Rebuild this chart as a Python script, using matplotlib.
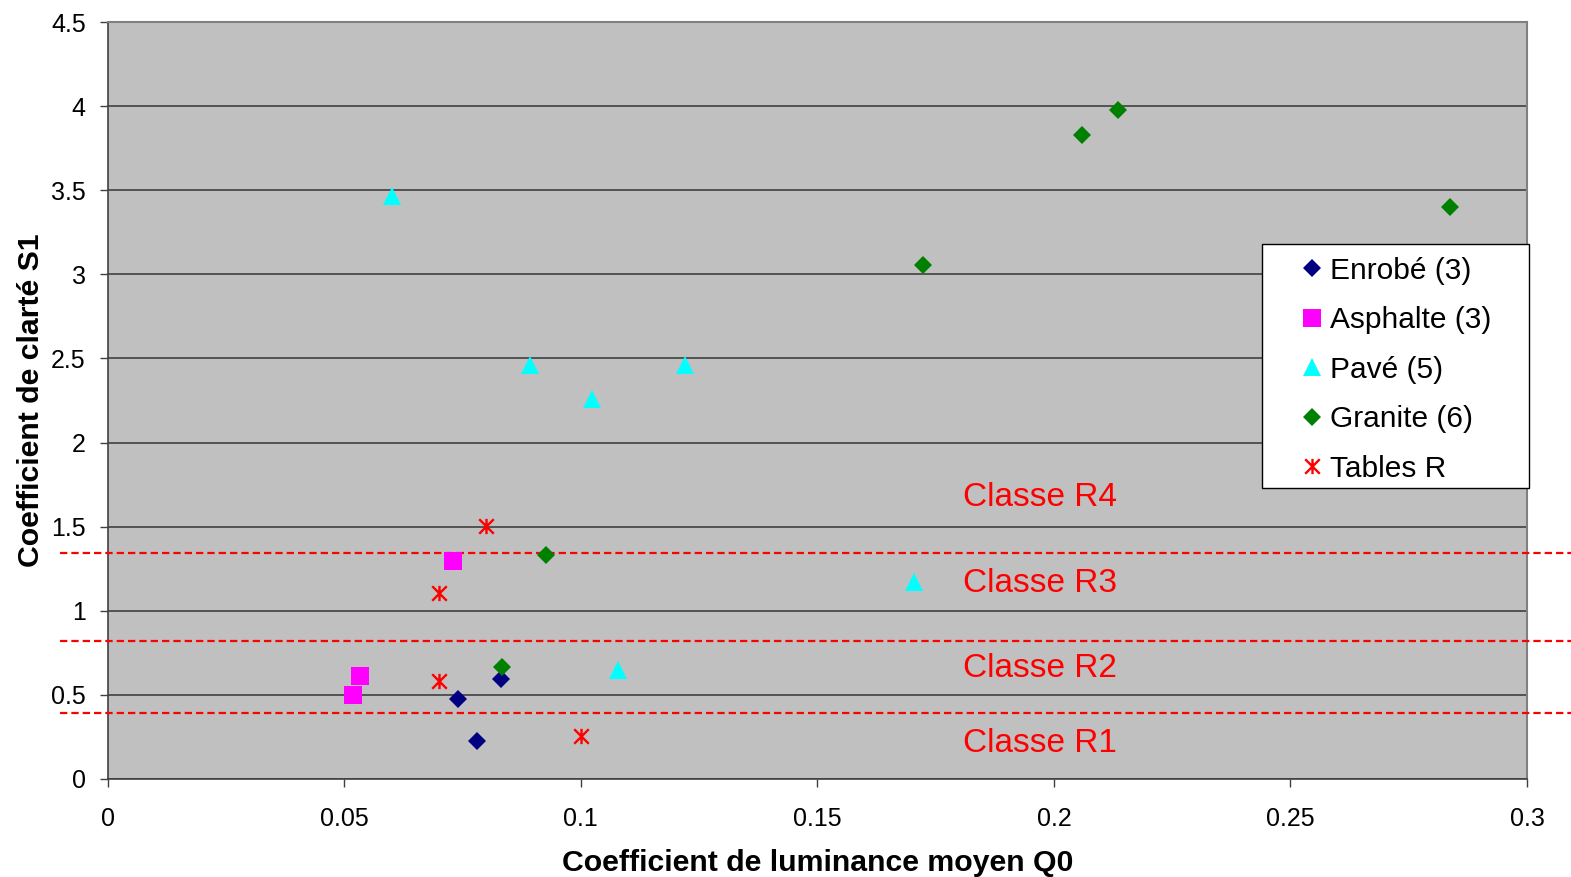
import matplotlib
matplotlib.use("Agg")
import matplotlib.pyplot as plt
from matplotlib.path import Path
from matplotlib.patches import Rectangle

plt.rcParams['font.family'] = ['Liberation Sans', 'DejaVu Sans']

# Coefficient de luminance moyen Q0 / coefficient de clarté S1 par revêtement
enrobe_q0 = [0.0740, 0.0831, 0.0780]
enrobe_s1 = [0.474, 0.593, 0.224]

asphalte_q0 = [0.0730, 0.0533, 0.0518]
asphalte_s1 = [1.296, 0.611, 0.498]

pave_q0 = [0.0600, 0.0893, 0.1024, 0.1221, 0.1704, 0.1079]
pave_s1 = [3.464, 2.463, 2.260, 2.463, 1.171, 0.646]

granite_q0 = [0.2136, 0.2059, 0.2837, 0.1723, 0.0926, 0.0833]
granite_s1 = [3.976, 3.827, 3.398, 3.053, 1.331, 0.664]

tables_q0 = [0.0800, 0.0700, 0.0700, 0.1000]
tables_s1 = [1.504, 1.105, 0.581, 0.253]

# Limites entre classes R1/R2, R2/R3, R3/R4
class_limits = [0.394, 0.822, 1.341]
class_names = ["Classe R1", "Classe R2", "Classe R3", "Classe R4"]

x_ticks = [0, 0.05, 0.1, 0.15, 0.2, 0.25, 0.3]
x_tick_labels = ['0', '0.05', '0.1', '0.15', '0.2', '0.25', '0.3']
y_ticks = [0, 0.5, 1, 1.5, 2, 2.5, 3, 3.5, 4, 4.5]
y_tick_labels = ['0', '0.5', '1', '1.5', '2', '2.5', '3', '3.5', '4', '4.5']

# Astérisque : trait vertical + croix
star = Path([(0, -1.05), (0, 1.05), (-1, -1), (1, 1), (-1, 1), (1, -1)],
            [Path.MOVETO, Path.LINETO, Path.MOVETO, Path.LINETO, Path.MOVETO, Path.LINETO])

fig = plt.figure(figsize=(15.71, 8.77), dpi=100)
ax = fig.add_axes([107.7 / 1571, 1 - 779 / 877, 1419.3 / 1571, 757 / 877])
ax.set_facecolor('#c0c0c0')

ax.plot(enrobe_q0, enrobe_s1, 'D', color='#000080', ms=8.8, mew=0, ls='none', label='Enrobé (3)', zorder=4)
ax.plot(asphalte_q0, asphalte_s1, 's', color='#ff00ff', ms=12.5, mew=0, ls='none', label='Asphalte (3)', zorder=4)
ax.plot(pave_q0, pave_s1, '^', color='#00ffff', ms=13, mew=0, ls='none', label='Pavé (5)', zorder=4)
ax.plot(granite_q0, granite_s1, 'D', color='#008000', ms=8.8, mew=0, ls='none', label='Granite (6)', zorder=4)
ax.plot(tables_q0, tables_s1, marker=star, color='#ff0000', ms=11, mew=1.7, ls='none', label='Tables R', zorder=4)

for lim in class_limits:
    ax.plot([-0.0101, 0.31], [lim, lim], ls=(0, (3.3, 1.8)), color='#ff0000', lw=1.6,
            clip_on=False, zorder=3)

# Étiquettes des classes (ligne de base)
for name, yy in zip(class_names, [0.162, 0.605, 1.114, 1.623]):
    ax.text(0.1807, yy, name, color='#ff0000', fontsize=24, va='baseline', ha='left', zorder=5)

ax.set_xlim(0, 0.3)
ax.set_ylim(0, 4.5)
ax.set_xticks(x_ticks)
ax.set_xticklabels(x_tick_labels)
ax.set_yticks(y_ticks)
ax.set_yticklabels(y_tick_labels)
ax.grid(axis='y', color='#404040', lw=1.2, zorder=1)
ax.set_axisbelow(True)
ax.tick_params(axis='both', direction='out', length=5.8, width=1, color='#404040', labelsize=18)
ax.tick_params(axis='x', pad=14)
ax.tick_params(axis='y', pad=10)

for side in ['left', 'bottom']:
    ax.spines[side].set_color('#404040')
    ax.spines[side].set_linewidth(1.2)
for side in ['right', 'top']:
    ax.spines[side].set_color('#808080')
    ax.spines[side].set_linewidth(1.5)

ax.set_xlabel('Coefficient de luminance moyen Q0', fontsize=21.8, fontweight='bold')
ax.set_ylabel('Coefficient de clarté S1', fontsize=21.8, fontweight='bold')
ax.xaxis.set_label_coords(0.5, -0.0925)
ax.yaxis.set_label_coords(-0.044, 0.5)

# Cadre de la légende
frame = Rectangle((0.8131, 0.3840), 1.0016 - 0.8131, 0.7063 - 0.3840, transform=ax.transAxes,
                  facecolor='white', edgecolor='#000000', lw=1.0, clip_on=False, zorder=6)
ax.add_patch(frame)

leg = ax.legend(loc='center left', bbox_to_anchor=(0.8403, 0.5407), fontsize=21.5,
                frameon=False, borderpad=0, labelspacing=0.72,
                handlelength=0.8, handletextpad=0.19, borderaxespad=0, markerscale=1.0)
leg.set_zorder(7)

fig.savefig('out.png', dpi=100)
